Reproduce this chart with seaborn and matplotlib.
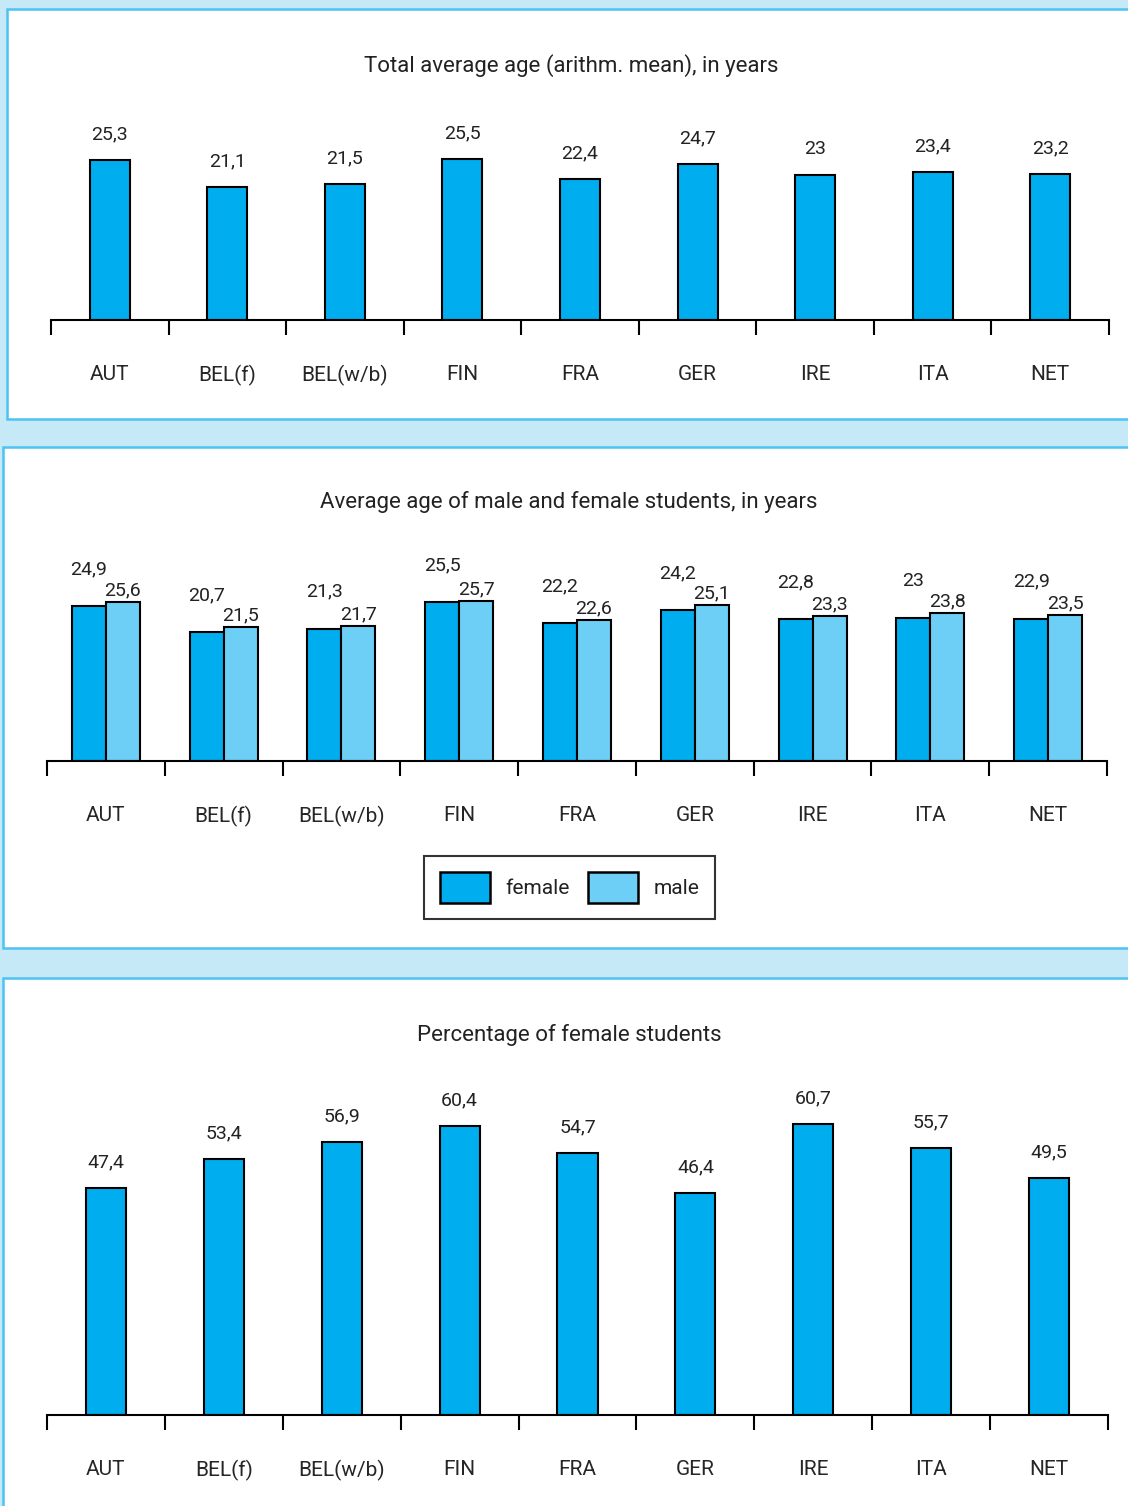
import pandas as pd
import matplotlib.pyplot as plt
import seaborn as sns
from matplotlib.patches import Rectangle, Patch

# --- data ---
countries = ['AUT', 'BEL(f)', 'BEL(w/b)', 'FIN', 'FRA', 'GER', 'IRE', 'ITA', 'NET']
total_age = [25.3, 21.1, 21.5, 25.5, 22.4, 24.7, 23.0, 23.4, 23.2]
female_age = [24.9, 20.7, 21.3, 25.5, 22.2, 24.2, 22.8, 23.0, 22.9]
male_age = [25.6, 21.5, 21.7, 25.7, 22.6, 25.1, 23.3, 23.8, 23.5]
pct_female = [47.4, 53.4, 56.9, 60.4, 54.7, 46.4, 60.7, 55.7, 49.5]

titles = ['Total average age (arithm. mean), in years',
          'Average age of male and female students, in years',
          'Percentage of female students']

C_FEMALE = '#00AEEF'
C_MALE = '#6DCFF6'
BG = '#C6E9F8'
BORDER = '#4CC3F3'

W, H = 1128, 1506

sns.set_theme(style="white")
plt.rcParams['font.family'] = ['Roboto', 'DejaVu Sans']
plt.rcParams['text.color'] = '#222222'

fig = plt.figure(figsize=(W / 100, H / 100), dpi=100, facecolor=BG)


def fx(x):
    return x / W


def fy(y):
    return 1 - y / H


def comma(v):
    return f'{v:g}'.replace('.', ',')


# white panels
for x0, y0, y1 in [(7, 9, 419), (3, 447, 948), (3, 978, 1515)]:
    fig.patches.append(Rectangle((fx(x0), fy(y1)), fx(W + 20 - x0), (y1 - y0) / H,
                                 transform=fig.transFigure, facecolor='white',
                                 edgecolor=BORDER, linewidth=1.8, zorder=-5))


def make_axes(left, right, base, top, scale):
    ax = fig.add_axes([fx(left), fy(base), fx(right - left), (base - top) / H])
    ax.set_facecolor('none')
    ax.set_ylim(0, (base - top) / scale)
    return ax


def style_axes(ax):
    ax.set_xlim(-0.5, len(countries) - 0.5)
    sns.despine(ax=ax, left=True, top=True, right=True)
    ax.spines['bottom'].set_color('black')
    ax.spines['bottom'].set_linewidth(1.5)
    ax.set_yticks([])
    ax.set_xlabel('')
    ax.set_ylabel('')
    ax.set_xticks(range(len(countries)))
    ax.set_xticklabels(countries, fontsize=15)
    ax.set_xticks([i - 0.5 for i in range(len(countries) + 1)], minor=True)
    ax.tick_params(axis='x', which='major', length=0, pad=32.5)
    ax.tick_params(axis='x', which='minor', bottom=True, length=11, width=1.5,
                   color='black', direction='out')


# --- panel 1 ---
df1 = pd.DataFrame({'country': countries, 'age': total_age})
ax1 = make_axes(51, 1109, 320, 90, 6.31)
sns.barplot(data=df1, x='country', y='age', color=C_FEMALE, saturation=1,
            width=0.34, edgecolor='black', linewidth=1.5, ax=ax1)
style_axes(ax1)
ax1.bar_label(ax1.containers[0], fmt=comma, padding=12, fontsize=14)
fig.text(fx(571), fy(66), titles[0], ha='center', va='center', fontsize=16)

# --- panel 2 ---
df2 = pd.DataFrame({'country': countries * 2,
                    'age': female_age + male_age,
                    'sex': ['female'] * len(countries) + ['male'] * len(countries)})
ax2 = make_axes(47, 1107, 761, 540, 6.22)
sns.barplot(data=df2, x='country', y='age', hue='sex', palette=[C_FEMALE, C_MALE],
            saturation=1, width=0.577, edgecolor='black', linewidth=1.5, ax=ax2,
            legend=False)
style_axes(ax2)
ax2.bar_label(ax2.containers[0], fmt=comma, padding=20, fontsize=14)
ax2.bar_label(ax2.containers[1], fmt=comma, padding=2, fontsize=14)
fig.text(fx(569), fy(502), titles[1], ha='center', va='center', fontsize=16)

handles = [Patch(facecolor=C_FEMALE, edgecolor='black', linewidth=1.8, label='female'),
           Patch(facecolor=C_MALE, edgecolor='black', linewidth=1.8, label='male')]
leg = fig.legend(handles=handles, loc='center', bbox_to_anchor=(fx(569.5), fy(887.5)),
                 ncol=2, fontsize=15, frameon=True, fancybox=False,
                 handlelength=2.4, handleheight=1.9, handletextpad=0.75,
                 columnspacing=0.85, borderpad=0.75)
leg.get_frame().set_edgecolor('black')
leg.get_frame().set_linewidth(1.5)

# --- panel 3 ---
df3 = pd.DataFrame({'country': countries, 'pct': pct_female})
ax3 = make_axes(47, 1108, 1415, 1070, 4.79)
sns.barplot(data=df3, x='country', y='pct', color=C_FEMALE, saturation=1,
            width=0.34, edgecolor='black', linewidth=1.5, ax=ax3)
style_axes(ax3)
ax3.bar_label(ax3.containers[0], fmt=comma, padding=12, fontsize=14)
fig.text(fx(569), fy(1035), titles[2], ha='center', va='center', fontsize=16)

fig.savefig('out.png', dpi=100, facecolor=BG)
